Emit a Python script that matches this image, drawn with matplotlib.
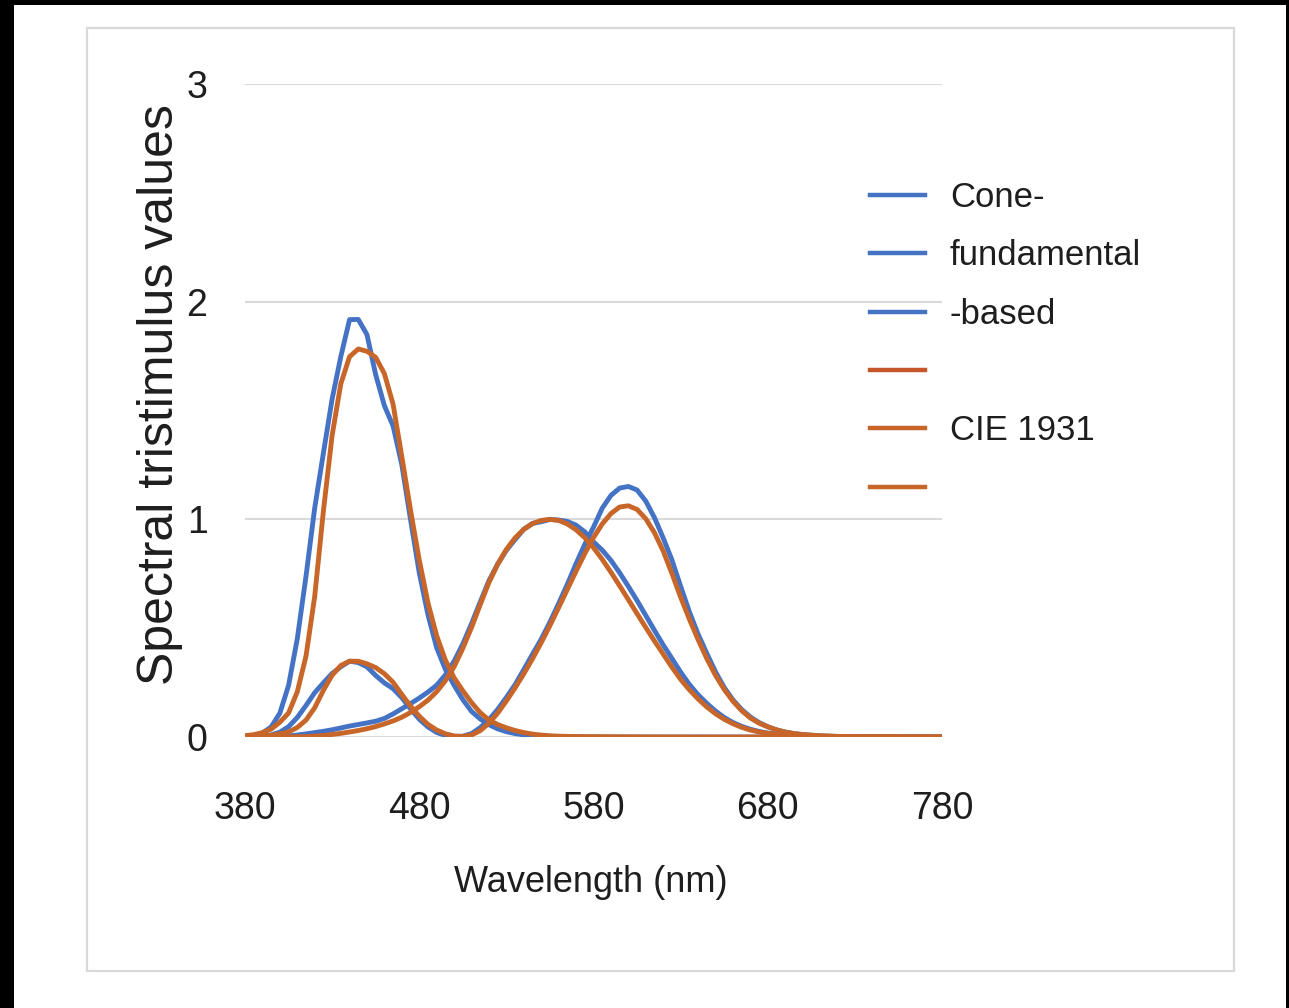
import numpy as np
import matplotlib
matplotlib.use("Agg")
import matplotlib.pyplot as plt
from matplotlib.patches import Rectangle
from matplotlib.lines import Line2D

# ---------------- data ----------------
# CIE 1931 2-degree colour matching functions (orange)
wl_cie = [380, 385, 390, 395, 400, 405, 410, 415, 420, 425, 430, 435, 440, 445, 450,
          455, 460, 465, 470, 475, 480, 485, 490, 495, 500, 505, 510, 515, 520, 525,
          530, 535, 540, 545, 550, 555, 560, 565, 570, 575, 580, 585, 590, 595, 600,
          605, 610, 615, 620, 625, 630, 635, 640, 645, 650, 655, 660, 665, 670, 675,
          680, 685, 690, 695, 700, 710, 720, 730, 740, 750, 760, 770, 780]
x_cie = [0.001368, 0.002236, 0.004243, 0.007650, 0.014310, 0.023190, 0.043510, 0.077630,
         0.134380, 0.214770, 0.283900, 0.328500, 0.348280, 0.348060, 0.336200, 0.318700,
         0.290800, 0.251100, 0.195360, 0.142100, 0.095640, 0.057950, 0.032010, 0.014700,
         0.004900, 0.002400, 0.009300, 0.029100, 0.063270, 0.109600, 0.165500, 0.225750,
         0.290400, 0.359700, 0.433450, 0.512050, 0.594500, 0.678400, 0.762100, 0.842500,
         0.916300, 0.978600, 1.026300, 1.056700, 1.062200, 1.045600, 1.002600, 0.938400,
         0.854450, 0.751400, 0.642400, 0.541900, 0.447900, 0.360800, 0.283500, 0.218700,
         0.164900, 0.121200, 0.087400, 0.063600, 0.046770, 0.032900, 0.022700, 0.015840,
         0.011359, 0.005790, 0.002899, 0.001440, 0.000690, 0.000332, 0.000166, 0.000083,
         0.000042]
y_cie = [0.000039, 0.000064, 0.000120, 0.000217, 0.000396, 0.000640, 0.001210, 0.002180,
         0.004000, 0.007300, 0.011600, 0.016840, 0.023000, 0.029800, 0.038000, 0.048000,
         0.060000, 0.073900, 0.090980, 0.112600, 0.139020, 0.169300, 0.208020, 0.258600,
         0.323000, 0.407300, 0.503000, 0.608200, 0.710000, 0.793200, 0.862000, 0.914850,
         0.954000, 0.980300, 0.994950, 1.000000, 0.995000, 0.978600, 0.952000, 0.915400,
         0.870000, 0.816300, 0.757000, 0.694900, 0.631000, 0.566800, 0.503000, 0.441200,
         0.381000, 0.321000, 0.265000, 0.217000, 0.175000, 0.138200, 0.107000, 0.081600,
         0.061000, 0.044580, 0.032000, 0.023200, 0.017000, 0.011920, 0.008210, 0.005723,
         0.004102, 0.002091, 0.001047, 0.000520, 0.000249, 0.000120, 0.000060, 0.000030,
         0.000015]
z_cie = [0.006450, 0.010550, 0.020050, 0.036210, 0.067850, 0.110200, 0.207400, 0.371300,
         0.645600, 1.039050, 1.385600, 1.622960, 1.747060, 1.782600, 1.772110, 1.744100,
         1.669200, 1.528100, 1.287640, 1.041900, 0.812950, 0.616200, 0.465180, 0.353300,
         0.272000, 0.212300, 0.158200, 0.111700, 0.078250, 0.057250, 0.042160, 0.029840,
         0.020300, 0.013400, 0.008750, 0.005750, 0.003900, 0.002750, 0.002100, 0.001800,
         0.001650, 0.001400, 0.001100, 0.001000, 0.000800, 0.000600, 0.000340, 0.000240,
         0.000190, 0.000100, 0.000050, 0.000030, 0.000020, 0.000010, 0.0, 0.0,
         0.0, 0.0, 0.0, 0.0, 0.0, 0.0, 0.0, 0.0,
         0.0, 0.0, 0.0, 0.0, 0.0, 0.0, 0.0, 0.0,
         0.0]

# Cone-fundamental-based 2-degree CMFs (blue)
wl_cf = [390, 395, 400, 405, 410, 415, 420, 425, 430, 435, 440, 445, 450, 455, 460,
         465, 470, 475, 480, 485, 490, 495, 500, 505, 510, 515, 520, 525, 530, 535,
         540, 545, 550, 555, 560, 565, 570, 575, 580, 585, 590, 595, 600, 605, 610,
         615, 620, 625, 630, 635, 640, 645, 650, 655, 660, 665, 670, 675, 680, 685,
         690, 695, 700, 710, 720, 730, 740, 750, 760, 770, 780]
x_cf = [0.003770, 0.009383, 0.022143, 0.047430, 0.089538, 0.144621, 0.203573, 0.248852,
        0.291825, 0.322709, 0.348255, 0.341848, 0.322464, 0.282665, 0.248525, 0.221978,
        0.180691, 0.129192, 0.081829, 0.046009, 0.020840, 0.007098, 0.002462, 0.003649,
        0.015570, 0.043152, 0.079629, 0.126847, 0.181803, 0.240502, 0.309812, 0.380424,
        0.449421, 0.528023, 0.613378, 0.701677, 0.796775, 0.885338, 0.963839, 1.051011,
        1.109767, 1.143620, 1.151033, 1.134757, 1.083928, 1.007344, 0.914288, 0.813557,
        0.692472, 0.575541, 0.473122, 0.384499, 0.299737, 0.227779, 0.170791, 0.126381,
        0.092246, 0.066400, 0.047106, 0.032921, 0.022623, 0.015754, 0.010968, 0.005315,
        0.002560, 0.001218, 0.000584, 0.000281, 0.000135, 0.000065, 0.000031]
y_cf = [0.000415, 0.001060, 0.002452, 0.004972, 0.009080, 0.014294, 0.020274, 0.026121,
        0.033190, 0.041579, 0.050337, 0.057434, 0.064724, 0.072383, 0.085148, 0.106015,
        0.129896, 0.153507, 0.178805, 0.206483, 0.237916, 0.285068, 0.348354, 0.427760,
        0.520497, 0.620626, 0.718089, 0.794645, 0.857580, 0.907135, 0.954468, 0.981411,
        0.989023, 0.999461, 0.996774, 0.990255, 0.973261, 0.942457, 0.896361, 0.858720,
        0.811587, 0.754479, 0.691855, 0.627007, 0.558375, 0.489595, 0.422990, 0.360925,
        0.298087, 0.241690, 0.194312, 0.154740, 0.119312, 0.089796, 0.066710, 0.048997,
        0.035600, 0.025542, 0.018073, 0.012616, 0.008661, 0.006028, 0.004196, 0.002034,
        0.000979, 0.000466, 0.000224, 0.000107, 0.000052, 0.000025, 0.000012]
z_cf = [0.018473, 0.046098, 0.109609, 0.236925, 0.450837, 0.737882, 1.051821, 1.305008,
        1.552826, 1.748280, 1.917479, 1.918437, 1.848545, 1.664439, 1.522157, 1.428440,
        1.250610, 0.999179, 0.755238, 0.561731, 0.409931, 0.310594, 0.237675, 0.172002,
        0.117680, 0.082835, 0.056504, 0.037519, 0.024382, 0.015662, 0.009846, 0.006131,
        0.003790, 0.002327, 0.001432, 0.000882, 0.000545, 0.000339, 0.000212, 0.000134,
        0.000085, 0.000055, 0.000035, 0.000023, 0.000016, 0.000010, 0.0, 0.0,
        0.0, 0.0, 0.0, 0.0, 0.0, 0.0, 0.0, 0.0,
        0.0, 0.0, 0.0, 0.0, 0.0, 0.0, 0.0, 0.0,
        0.0, 0.0, 0.0, 0.0, 0.0, 0.0, 0.0]

legend_labels = ["Cone-", "fundamental", "-based", " ", "CIE 1931", " "]
x_ticks = [380, 480, 580, 680, 780]
y_ticks = [0, 1, 2, 3]

BLUE = "#4472C4"
ORANGE = "#C8662A"
ORANGE2 = "#C4562A"
TXT = "#1E1E1E"

W, H = 1289, 1008
FONT = ["Liberation Sans", "DejaVu Sans"]
plt.rcParams["font.family"] = FONT

fig = plt.figure(figsize=(W / 100, H / 100), dpi=100, facecolor="black")

# white panel + light grey chart border
fig.patches.append(Rectangle((14 / W, 0), (1286 - 14) / W, (H - 5) / H,
                             transform=fig.transFigure, facecolor="white",
                             edgecolor="none", zorder=-2))
fig.patches.append(Rectangle((87 / W, 1 - 971 / H), (1234 - 87) / W, (971 - 28) / H,
                             transform=fig.transFigure, facecolor="none",
                             edgecolor="#D9D9D9", linewidth=1.6, zorder=-1))

ax = fig.add_axes([245 / W, 1 - 737 / H, (942 - 245) / W, (737 - 84) / H])
ax.set_facecolor("none")
ax.set_xlim(380, 780)
ax.set_ylim(0, 3)
for s in ax.spines.values():
    s.set_visible(False)
ax.set_yticks(y_ticks)
ax.set_xticks(x_ticks)
ax.yaxis.grid(True, color="#D9D9D9", linewidth=1.5)
ax.set_axisbelow(True)
ax.tick_params(length=0, labelsize=27, colors=TXT)
ax.tick_params(axis="x", pad=39)
ax.tick_params(axis="y", pad=27)

lw = 3.5
kw = dict(lw=lw, solid_capstyle="round", solid_joinstyle="round")
ax.plot(wl_cf, z_cf, color=BLUE, **kw)
ax.plot(wl_cf, x_cf, color=BLUE, **kw)
ax.plot(wl_cf, y_cf, color=BLUE, **kw)
ax.plot(wl_cie, z_cie, color=ORANGE, **kw)
ax.plot(wl_cie, x_cie, color=ORANGE, **kw)
ax.plot(wl_cie, y_cie, color=ORANGE, **kw)

handles = [Line2D([], [], color=BLUE, lw=3.2),
           Line2D([], [], color=BLUE, lw=3.2),
           Line2D([], [], color=BLUE, lw=3.2),
           Line2D([], [], color=ORANGE2, lw=3.2),
           Line2D([], [], color=ORANGE, lw=3.2),
           Line2D([], [], color=ORANGE, lw=3.2)]
fig.legend(handles, legend_labels, loc="upper left",
           bbox_to_anchor=(870 / W, 1 - 181 / H), frameon=False,
           fontsize=25, handlelength=1.58, handletextpad=0.72,
           labelspacing=0.73, borderpad=0, borderaxespad=0,
           labelcolor=TXT)

fig.text(160 / W, 1 - 395 / H, "Spectral tristimulus values", rotation=90,
         ha="center", va="center", fontsize=36, color=TXT)
fig.text(591 / W, 1 - 883 / H, "Wavelength (nm)", ha="center", va="center",
         fontsize=26, color=TXT)

fig.savefig("out.png", dpi=100, facecolor="black")
